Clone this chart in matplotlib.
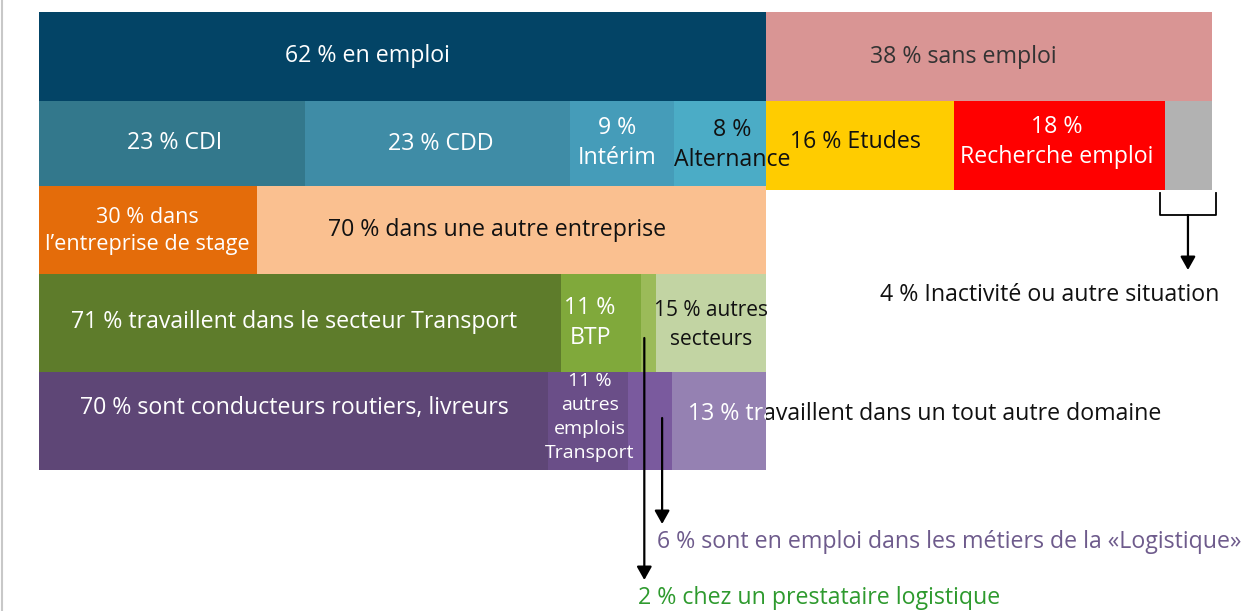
import matplotlib.pyplot as plt
from matplotlib.lines import Line2D
from matplotlib.transforms import Bbox, TransformedBbox

plt.rcParams['font.family'] = ['Open Sans', 'DejaVu Sans']

# shares in % of all respondents (row 1 & right part of row 2)
situation = [62, 38]
sans_emploi = [16, 18, 4]          # Etudes, Recherche emploi, Inactivite
# shares in % of those employed
contrats = [23, 23, 9, 8]          # CDI, CDD, Interim, Alternance
entreprise = [30, 70]              # stage company / other company
secteur = [71, 11, 2, 15]          # Transport, BTP, prestataire logistique, autres
metier = [70, 11, 6, 13]           # conducteurs, autres transport, logistique, autre domaine

fig = plt.figure(figsize=(12.53, 6.11), dpi=100)
ax = fig.add_axes([0, 0, 1, 1])
# x: 0..100 % mapped on the pixel span 39..1212, y: pixels from top
px = 1173 / 100
ax.set_xlim(-39 / px, (1253 - 39) / px)
ax.set_ylim(611, 0)
ax.axis('off')

# row bands (top, bottom) in pixels
rows = [(12, 101), (101, 186), (186, 274), (274, 372), (372, 470)]
right_row2 = (101, 190)


def band(values, total, start, row, colors):
    top, bot = row
    scale = total / sum(values)
    rects = []
    x = start
    for v, c in zip(values, colors):
        w = v * scale
        r = ax.barh((top + bot) / 2, w, height=bot - top, left=x, color=c,
                    edgecolor='none', zorder=2)[0]
        rects.append((x, w, r))
        x += w
    return rects


emp = situation[0]
r1 = band(situation, 100, 0, rows[0], ['#034466', '#D99594'])
r2 = band(contrats, emp, 0, rows[1], ['#33788C', '#3F8CA6', '#459CB9', '#4BACC6'])
r2b = band(sans_emploi, situation[1], emp, right_row2, ['#FFCC00', '#FF0000', '#B2B2B2'])
r3 = band(entreprise, emp, 0, rows[2], ['#E46C0A', '#FAC090'])
r4 = band(secteur, emp, 0, rows[3], ['#5E7C2B', '#80A93B', '#9BBB59', '#C2D4A3'])
r5 = band(metier, emp, 0, rows[4], ['#5E4676', '#6A4E88', '#7A5A9E', '#9581B2'])

fs = 16.7
W = 'white'


def lab(xpx, ypx, s, color=W, size=fs, ls=1.33, ha='center', z=4):
    return ax.text((xpx - 39) / px, ypx, s, color=color, fontsize=size,
                   ha=ha, va='center', linespacing=ls, zorder=z)


lab(367, 56, '62 % en emploi')
lab(963, 57, '38 % sans emploi', color='#333333')
lab(175, 143, '23 % CDI')
lab(441, 144, '23 % CDD')
lab(617, 143, '9 %\nIntérim')
lab(732, 145, '8 %\nAlternance', color='#111111')
lab(855, 142, '16 % Etudes', color='#111111')
lab(1057, 142, '18 %\nRecherche emploi')
lab(147, 231, '30 % dans\nl\u2019entreprise de stage', size=15.6, ls=1.4)
lab(497, 230, '70 % dans une autre entreprise', color='#111111')
lab(294, 322, '71 % travaillent dans le secteur Transport')
lab(590, 323, '11 %\nBTP')
lab(711, 325, '15 % autres\nsecteurs', color='#111111', size=15, ls=1.45)
lab(294, 408, '70 % sont conducteurs routiers, livreurs')
lab(590, 417, '11 %\nautres\nemplois\nTransport', size=14, ls=1.45)

# text running out of the last purple bar: white inside, black outside
txt13 = '13 % travaillent dans un tout autre domaine'
lab(688, 414, txt13, color='#111111', ha='left', z=1)
t13 = lab(688, 414, txt13, ha='left', z=4)
x13, w13, _ = r5[3]
t13.set_clip_box(TransformedBbox(Bbox([[x13, rows[4][0]], [x13 + w13, rows[4][1]]]),
                                 ax.transData))
t13.set_clip_on(True)

lab(1050, 295, '4 % Inactivité ou autre situation', color='#111111')
lab(657, 542, '6 % sont en emploi dans les métiers de la «Logistique»',
    color='#6E5B8C', ha='left')
lab(638, 598, '2 % chez un prestataire logistique', color='#2E9A2E', ha='left')

# bracket under the inactivity block
x0, w0, _ = r2b[2]
bl, br = x0 - 0.4, x0 + w0 + 0.3
ax.add_line(Line2D([bl, bl, br, br], [193, 215, 215, 193], color='black', lw=1.3))
arrow = dict(arrowstyle='-|>,head_length=0.8,head_width=0.45', color='black', lw=1.6,
             shrinkA=0, shrinkB=0)
ax.annotate('', xy=((bl + br) / 2, 270), xytext=((bl + br) / 2, 215), arrowprops=arrow)

# arrows from the logistics strips
xs, ws, _ = r4[2]
ax.annotate('', xy=(xs + ws * 0.2, 580), xytext=(xs + ws * 0.2, 338),
            arrowprops=arrow, zorder=5)
xm, wm, _ = r5[2]
ax.annotate('', xy=(xm + wm * 0.78, 524), xytext=(xm + wm * 0.78, 418),
            arrowprops=arrow, zorder=5)

# thin frame line at the left edge
fig.add_artist(Line2D([2 / 1253, 2 / 1253], [0, 1], color='#C8C8C8', lw=1.5))

fig.savefig('out.png', dpi=100)
